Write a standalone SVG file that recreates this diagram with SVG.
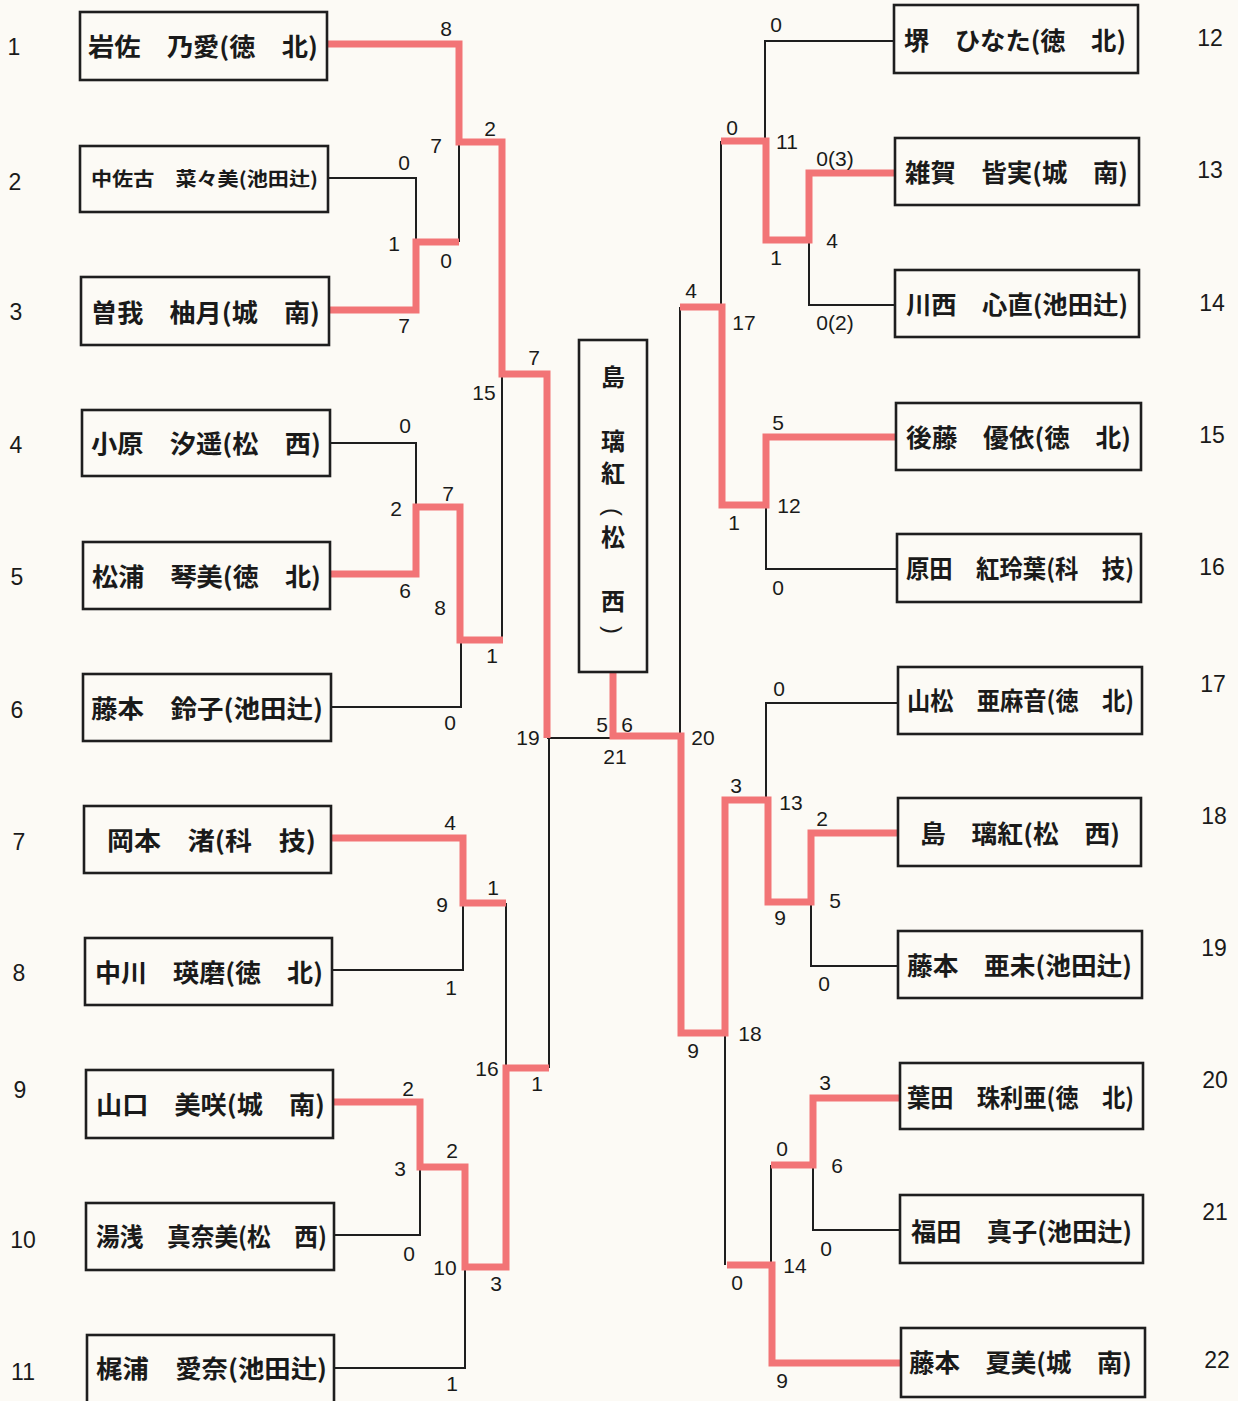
<svg xmlns="http://www.w3.org/2000/svg" width="1238" height="1401" viewBox="0 0 1238 1401">
<style>
.bg{fill:#fcfaf5}
.box{fill:none;stroke:#1e1e1e;stroke-width:2.6}
.nm{font-family:"Noto Sans CJK JP","Noto Sans CJK SC",sans-serif;font-size:25px;font-weight:bold;fill:#1a1a1a}
.sm{font-size:19px}
.sc{font-family:"Liberation Sans",Arial,sans-serif;font-size:21px;fill:#1a1a1a;text-anchor:middle}
.ix{font-family:"Liberation Sans",Arial,sans-serif;font-size:23px;fill:#1a1a1a;text-anchor:middle}
.bk{fill:none;stroke:#1e1e1e;stroke-width:2}
.rd{fill:none;stroke:#f27476;stroke-width:7;stroke-linejoin:miter}
.vt{font-family:"Noto Sans CJK JP","Noto Sans CJK SC",sans-serif;font-size:24px;font-weight:bold;fill:#1a1a1a;text-anchor:middle}
.pr{font-family:"Liberation Sans",Arial,sans-serif;font-size:24px;fill:#1a1a1a;text-anchor:middle;dominant-baseline:central}
</style>
<rect class="bg" x="0" y="0" width="1238" height="1401"/>

<g id="connectors">
  <path class="bk" d="M328,178 H416 V242"/>
  <path class="bk" d="M459,142 V242"/>
  <path class="bk" d="M330,443 H416 V507"/>
  <path class="bk" d="M502,374 V640"/>
  <path class="bk" d="M331,707 H461 V640"/>
  <path class="bk" d="M332,970 H463 V903"/>
  <path class="bk" d="M506,903 V1068"/>
  <path class="bk" d="M549,738 V1068"/>
  <path class="bk" d="M334,1235 H420 V1167"/>
  <path class="bk" d="M334,1368 H465 V1267"/>
  <path class="bk" d="M547,738 H613"/>
  <path class="bk" d="M894,41 H765 V141"/>
  <path class="bk" d="M721,141 V307"/>
  <path class="bk" d="M809,240 V305 H895"/>
  <path class="bk" d="M766,505 V569 H897"/>
  <path class="bk" d="M680,307 V736"/>
  <path class="bk" d="M898,703 H766 V800"/>
  <path class="bk" d="M811,902 V966 H898"/>
  <path class="bk" d="M725,1033 V1265"/>
  <path class="bk" d="M771,1265 V1165"/>
  <path class="bk" d="M813,1165 V1230 H900"/>

  <path class="rd" d="M327,44 H459 V142 H502 V374 H547 V738"/>
  <path class="rd" d="M330,310 H416 V242 H459"/>
  <path class="rd" d="M330,574 H416 V507 H460 V640 H503"/>
  <path class="rd" d="M331,838 H463 V903 H506"/>
  <path class="rd" d="M333,1102 H420 V1167 H465 V1267 H506 V1068 H549"/>
  <path class="rd" d="M613,672 V736 H681 V1033 H725 V800 H768 V902 H811 V833 H898"/>
  <path class="rd" d="M895,173 H809 V240 H766 V141 H721"/>
  <path class="rd" d="M896,437 H766 V505 H722 V307 H680"/>
  <path class="rd" d="M900,1098 H813 V1165 H771"/>
  <path class="rd" d="M901,1363 H772 V1265 H727"/>
</g>

<g id="left-nodes">
  <g id="p1"><rect class="box" x="80" y="12" width="247" height="68"/><text class="nm" x="88" y="55.5" textLength="230" lengthAdjust="spacingAndGlyphs">岩佐　乃愛(徳　北)</text></g>
  <g id="p2"><rect class="box" x="80" y="146" width="248" height="66"/><text class="nm sm" x="91" y="186" textLength="227" lengthAdjust="spacingAndGlyphs">中佐古　菜々美(池田辻)</text></g>
  <g id="p3"><rect class="box" x="81" y="277" width="248" height="68"/><text class="nm" x="91" y="321.5" textLength="229" lengthAdjust="spacingAndGlyphs">曽我　柚月(城　南)</text></g>
  <g id="p4"><rect class="box" x="82" y="410" width="248" height="66"/><text class="nm" x="91" y="452.5" textLength="230" lengthAdjust="spacingAndGlyphs">小原　汐遥(松　西)</text></g>
  <g id="p5"><rect class="box" x="83" y="542" width="247" height="67"/><text class="nm" x="92" y="585.5" textLength="229" lengthAdjust="spacingAndGlyphs">松浦　琴美(徳　北)</text></g>
  <g id="p6"><rect class="box" x="83" y="674" width="248" height="67"/><text class="nm" x="91" y="717.5" textLength="232" lengthAdjust="spacingAndGlyphs">藤本　鈴子(池田辻)</text></g>
  <g id="p7"><rect class="box" x="84" y="806" width="247" height="67"/><text class="nm" x="107" y="849.5" textLength="209" lengthAdjust="spacingAndGlyphs">岡本　渚(科　技)</text></g>
  <g id="p8"><rect class="box" x="85" y="938" width="247" height="67"/><text class="nm" x="95" y="981.5" textLength="228" lengthAdjust="spacingAndGlyphs">中川　瑛磨(徳　北)</text></g>
  <g id="p9"><rect class="box" x="86" y="1070" width="247" height="68"/><text class="nm" x="96" y="1113.5" textLength="229" lengthAdjust="spacingAndGlyphs">山口　美咲(城　南)</text></g>
  <g id="p10"><rect class="box" x="86" y="1203" width="248" height="67"/><text class="nm" x="96" y="1245.5" textLength="231" lengthAdjust="spacingAndGlyphs">湯浅　真奈美(松　西)</text></g>
  <g id="p11"><rect class="box" x="87" y="1335" width="247" height="68"/><text class="nm" x="96" y="1377.5" textLength="231" lengthAdjust="spacingAndGlyphs">梶浦　愛奈(池田辻)</text></g>
</g>

<g id="right-nodes">
  <g id="p12"><rect class="box" x="894" y="5" width="244" height="68"/><text class="nm" x="904" y="49.5" textLength="222" lengthAdjust="spacingAndGlyphs">堺　ひなた(徳　北)</text></g>
  <g id="p13"><rect class="box" x="895" y="138" width="244" height="67"/><text class="nm" x="905" y="181.5" textLength="223" lengthAdjust="spacingAndGlyphs">雑賀　皆実(城　南)</text></g>
  <g id="p14"><rect class="box" x="895" y="270" width="244" height="67"/><text class="nm" x="906" y="313.5" textLength="222" lengthAdjust="spacingAndGlyphs">川西　心直(池田辻)</text></g>
  <g id="p15"><rect class="box" x="896" y="403" width="245" height="67"/><text class="nm" x="906" y="446.5" textLength="225" lengthAdjust="spacingAndGlyphs">後藤　優依(徳　北)</text></g>
  <g id="p16"><rect class="box" x="897" y="534" width="244" height="68"/><text class="nm" x="906" y="577.5" textLength="228" lengthAdjust="spacingAndGlyphs">原田　紅玲葉(科　技)</text></g>
  <g id="p17"><rect class="box" x="898" y="667" width="244" height="67"/><text class="nm" x="907" y="709.5" textLength="227" lengthAdjust="spacingAndGlyphs">山松　亜麻音(徳　北)</text></g>
  <g id="p18"><rect class="box" x="898" y="798" width="243" height="68"/><text class="nm" x="920" y="842.5" textLength="200" lengthAdjust="spacingAndGlyphs">島　璃紅(松　西)</text></g>
  <g id="p19"><rect class="box" x="898" y="931" width="244" height="67"/><text class="nm" x="907" y="974.5" textLength="225" lengthAdjust="spacingAndGlyphs">藤本　亜未(池田辻)</text></g>
  <g id="p20"><rect class="box" x="900" y="1063" width="243" height="66"/><text class="nm" x="907" y="1106.5" textLength="227" lengthAdjust="spacingAndGlyphs">葉田　珠利亜(徳　北)</text></g>
  <g id="p21"><rect class="box" x="900" y="1195" width="243" height="68"/><text class="nm" x="911" y="1240.5" textLength="221" lengthAdjust="spacingAndGlyphs">福田　真子(池田辻)</text></g>
  <g id="p22"><rect class="box" x="901" y="1328" width="244" height="69"/><text class="nm" x="909" y="1371.5" textLength="223" lengthAdjust="spacingAndGlyphs">藤本　夏美(城　南)</text></g>
</g>

<g id="champion">
  <rect class="box" x="579" y="340" width="68" height="332"/>
  <text class="vt" x="613" y="386">島</text>
  <text class="vt" x="613" y="450">璃</text>
  <text class="vt" x="613" y="482">紅</text>
  <text class="pr" x="613" y="512" transform="rotate(90 613 512)">(</text>
  <text class="vt" x="613" y="546">松</text>
  <text class="vt" x="613" y="610">西</text>
  <text class="pr" x="613" y="630" transform="rotate(90 613 630)">)</text>
</g>

<g id="index-numbers">
  <text class="ix" x="14" y="55">1</text>
  <text class="ix" x="15" y="190">2</text>
  <text class="ix" x="16" y="320">3</text>
  <text class="ix" x="16" y="453">4</text>
  <text class="ix" x="17" y="585">5</text>
  <text class="ix" x="17" y="718">6</text>
  <text class="ix" x="19" y="850">7</text>
  <text class="ix" x="19" y="981">8</text>
  <text class="ix" x="20" y="1098">9</text>
  <text class="ix" x="23" y="1248">10</text>
  <text class="ix" x="23" y="1380">11</text>
  <text class="ix" x="1210" y="46">12</text>
  <text class="ix" x="1210" y="178">13</text>
  <text class="ix" x="1212" y="311">14</text>
  <text class="ix" x="1212" y="443">15</text>
  <text class="ix" x="1212" y="575">16</text>
  <text class="ix" x="1213" y="692">17</text>
  <text class="ix" x="1214" y="824">18</text>
  <text class="ix" x="1214" y="956">19</text>
  <text class="ix" x="1215" y="1088">20</text>
  <text class="ix" x="1215" y="1220">21</text>
  <text class="ix" x="1217" y="1368">22</text>
</g>

<g id="scores">
  <text class="sc" x="446" y="35.5">8</text>
  <text class="sc" x="436" y="152.5">7</text>
  <text class="sc" x="490" y="135.5">2</text>
  <text class="sc" x="404" y="169.5">0</text>
  <text class="sc" x="394" y="250.5">1</text>
  <text class="sc" x="446" y="267.5">0</text>
  <text class="sc" x="404" y="332.5">7</text>
  <text class="sc" x="534" y="364.5">7</text>
  <text class="sc" x="484" y="399.5">15</text>
  <text class="sc" x="405" y="432.5">0</text>
  <text class="sc" x="448" y="500.5">7</text>
  <text class="sc" x="396" y="515.5">2</text>
  <text class="sc" x="405" y="597.5">6</text>
  <text class="sc" x="440" y="614.5">8</text>
  <text class="sc" x="492" y="662.5">1</text>
  <text class="sc" x="450" y="729.5">0</text>
  <text class="sc" x="528" y="744.5">19</text>
  <text class="sc" x="602" y="731.5">5</text>
  <text class="sc" x="627" y="731.5">6</text>
  <text class="sc" x="615" y="763.5">21</text>
  <text class="sc" x="703" y="744.5">20</text>
  <text class="sc" x="450" y="829.5">4</text>
  <text class="sc" x="493" y="894.5">1</text>
  <text class="sc" x="442" y="911.5">9</text>
  <text class="sc" x="451" y="994.5">1</text>
  <text class="sc" x="487" y="1075.5">16</text>
  <text class="sc" x="537" y="1090.5">1</text>
  <text class="sc" x="408" y="1095.5">2</text>
  <text class="sc" x="452" y="1157.5">2</text>
  <text class="sc" x="400" y="1175.5">3</text>
  <text class="sc" x="409" y="1260.5">0</text>
  <text class="sc" x="445" y="1274.5">10</text>
  <text class="sc" x="496" y="1290.5">3</text>
  <text class="sc" x="452" y="1390.5">1</text>

  <text class="sc" x="776" y="31.5">0</text>
  <text class="sc" x="732" y="134.5">0</text>
  <text class="sc" x="787" y="148.5">11</text>
  <text class="sc" x="835" y="165.5">0(3)</text>
  <text class="sc" x="776" y="264.5">1</text>
  <text class="sc" x="832" y="247.5">4</text>
  <text class="sc" x="691" y="297.5">4</text>
  <text class="sc" x="744" y="329.5">17</text>
  <text class="sc" x="835" y="329.5">0(2)</text>
  <text class="sc" x="778" y="429.5">5</text>
  <text class="sc" x="789" y="512.5">12</text>
  <text class="sc" x="734" y="529.5">1</text>
  <text class="sc" x="778" y="594.5">0</text>
  <text class="sc" x="779" y="695.5">0</text>
  <text class="sc" x="736" y="792.5">3</text>
  <text class="sc" x="791" y="809.5">13</text>
  <text class="sc" x="822" y="825.5">2</text>
  <text class="sc" x="835" y="907.5">5</text>
  <text class="sc" x="780" y="924.5">9</text>
  <text class="sc" x="824" y="990.5">0</text>
  <text class="sc" x="750" y="1040.5">18</text>
  <text class="sc" x="693" y="1057.5">9</text>
  <text class="sc" x="825" y="1089.5">3</text>
  <text class="sc" x="782" y="1155.5">0</text>
  <text class="sc" x="837" y="1172.5">6</text>
  <text class="sc" x="826" y="1255.5">0</text>
  <text class="sc" x="795" y="1272.5">14</text>
  <text class="sc" x="737" y="1289.5">0</text>
  <text class="sc" x="782" y="1387.5">9</text>
</g>
</svg>
